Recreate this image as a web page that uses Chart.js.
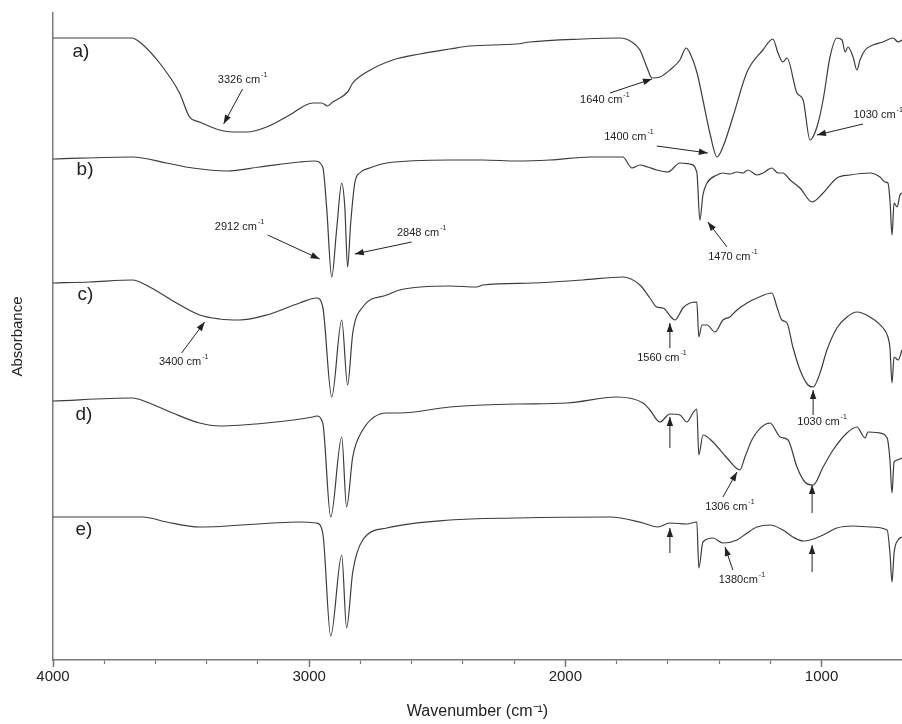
<!DOCTYPE html>
<html>
<head>
<meta charset="utf-8">
<script src="https://cdn.jsdelivr.net/npm/chart.js@4/dist/chart.umd.min.js"></script>
<style>
body{margin:0;background:#fff}
canvas{display:block}
</style>
</head>
<body>
<canvas id="ftir" width="902" height="724"></canvas>
<script>
// wavenumber (cm-1) and relative absorbance
const waveA=[4000,3693,3662,3584,3506,3467,3428,3350,3299,3244,3166,3076,2986,2951,2928,2908,2850,2830,2775,2674,2568,2451,2373,2190,2139,1932,1787,1740,1709,1682,1662,1631,1592,1553,1529,1514,1486,1463,1436,1408,1385,1346,1291,1229,1190,1170,1151,1135,1096,1072,1045,1018,994,967,940,920,908,897,877,862,850,830,799,760,721,701,686]
const absA=[622,622,618,597,567,543,538,530,528,528,533,545,557,557,554,558,568,577,588,600,606,611,614,616,618,621,622,618,610,593,582,583,590,600,612,607,587,560,527,503,513,543,588,610,621,607,598,602,567,560,520,533,560,603,622,620,608,613,603,590,600,610,615,618,622,618,620]

const waveB=[4000,3690,3557,3455,3322,3193,3037,2979,2947,2932,2912,2893,2873,2861,2850,2838,2822,2803,2764,2697,2451,2322,2190,2061,1904,1776,1740,1709,1678,1643,1600,1553,1514,1487,1475,1463,1447,1408,1385,1358,1330,1307,1287,1252,1229,1194,1170,1151,1123,1084,1037,994,940,889,811,772,752,741,733,725,717,705,694,686]
const absB=[501,503,497,492,489,493,498,499,493,453,383,430,477,453,393,437,477,487,492,497,500,500,499,500,503,503,492,495,493,490,488,497,496,488,440,465,477,485,487,486,488,487,490,485,487,492,487,487,480,472,458,467,482,485,487,483,478,477,460,425,457,453,465,467]

const waveC=[4000,3857,3690,3623,3518,3428,3350,3272,3166,3037,2971,2947,2912,2873,2850,2830,2791,2697,2647,2451,2346,2322,2127,1932,1776,1709,1670,1643,1619,1572,1541,1514,1487,1479,1467,1447,1416,1385,1358,1330,1291,1252,1194,1174,1155,1135,1112,1084,1053,1033,1006,979,940,901,862,811,760,741,733,725,717,701,686]
const absC=[377,378,380,373,357,345,341,340,345,357,362,353,263,340,275,327,353,365,370,374,373,375,377,380,383,375,362,353,352,340,352,357,358,323,335,335,328,340,343,350,357,362,367,353,340,337,313,290,275,273,287,310,332,343,348,343,332,323,312,277,303,300,310]

const waveD=[4000,3690,3635,3533,3428,3350,3166,2986,2971,2947,2916,2873,2854,2830,2791,2697,2647,2451,2322,2190,1994,1799,1697,1670,1631,1592,1553,1526,1502,1487,1479,1463,1424,1369,1319,1299,1268,1201,1162,1131,1096,1065,1033,994,955,901,862,830,819,772,744,733,725,717,705,686]
const absD=[259,262,258,247,237,234,237,243,244,237,143,223,153,203,230,247,247,253,255,256,257,263,257,250,238,246,245,238,247,251,205,225,218,202,190,203,222,237,223,220,193,178,175,193,210,227,233,222,228,227,222,200,167,198,200,202]

const waveE=[4000,3650,3557,3428,3037,2971,2947,2916,2873,2854,2830,2791,2697,2451,2190,1826,1697,1639,1592,1526,1487,1479,1463,1424,1385,1330,1291,1252,1201,1151,1112,1072,1045,994,940,877,811,744,733,725,717,701,686]
const absE=[143,143,138,133,138,137,127,24,105,32,88,120,132,140,142,143,137,133,137,136,138,92,118,122,117,120,127,133,135,130,123,119,120,125,132,134,133,130,107,78,107,120,123]

const traceNames=["a)","b)","c)","d)","e)"]
const xMin=686
const xMax=4000
const majorTicks=[1000,2000,3000,4000]

// trace letters: [wavenumber, absorbance]
const letterPos=[[3924,608],[3908,490],[3904,365],[3912,245],[3912,130]]

// peak notes, all in data units
const notes=[
{text:"3326 cm",at:[3260,580],from:[3260,571],to:[3334,536]},
{text:"1640 cm",at:[1846,560],from:[1826,567],to:[1662,581]},
{text:"1400 cm",at:[1752,523],from:[1643,514],to:[1444,507]},
{text:"1030 cm",at:[779,545],from:[838,536],to:[1018,525]},
{text:"2912 cm",at:[3272,433],from:[3162,425],to:[2959,401]},
{text:"2848 cm",at:[2561,427],from:[2600,418],to:[2822,406]},
{text:"1470 cm",at:[1346,403],from:[1369,413],to:[1444,438]},
{text:"3400 cm",at:[3490,298],from:[3498,307],to:[3408,338]},
{text:"1560 cm",at:[1623,302],from:[1592,312],to:[1592,337]},
{text:"1030 cm",at:[998,238],from:[1033,245],to:[1033,270]},
{text:null,from:[1592,212],to:[1592,243]},
{text:"1306 cm",at:[1358,153],from:[1385,163],to:[1330,188]},
{text:null,from:[1037,147],to:[1037,175]},
{text:null,from:[1592,107],to:[1592,132]},
{text:"1380cm",at:[1311,80],from:[1346,90],to:[1377,113]},
{text:null,from:[1037,88],to:[1037,115]}
]

const font="'Liberation Sans', Arial, sans-serif"
const ink="#222"
const axisGrey="#7a7a7a"

function pairs(w,a){
return w.map((v,i)=>({x:v,y:a[i]}))
}

const series=[[waveA,absA],[waveB,absB],[waveC,absC],[waveD,absD],[waveE,absE]]

const notesPlugin={
id:"notes",
afterDatasetsDraw(chart){
const ctx=chart.ctx
const sx=chart.scales.x
const sy=chart.scales.y
const px=p=>[sx.getPixelForValue(p[0]),sy.getPixelForValue(p[1])]
ctx.save()

// letters
ctx.fillStyle=ink
ctx.font="19px "+font
ctx.textBaseline="middle"
ctx.textAlign="left"
traceNames.forEach((t,i)=>{
const p=px(letterPos[i])
ctx.fillText(t,p[0],p[1])
})

notes.forEach(n=>{
const a=px(n.from)
const b=px(n.to)
ctx.strokeStyle=ink
ctx.lineWidth=1
ctx.beginPath()
ctx.moveTo(a[0],a[1])
ctx.lineTo(b[0],b[1])
ctx.stroke()
const ang=Math.atan2(b[1]-a[1],b[0]-a[0])
const L=9,W=3.2
ctx.beginPath()
ctx.moveTo(b[0],b[1])
ctx.lineTo(b[0]-L*Math.cos(ang)+W*Math.sin(ang),b[1]-L*Math.sin(ang)-W*Math.cos(ang))
ctx.lineTo(b[0]-L*Math.cos(ang)-W*Math.sin(ang),b[1]-L*Math.sin(ang)+W*Math.cos(ang))
ctx.closePath()
ctx.fillStyle=ink
ctx.fill()

if(n.text){
const c=px(n.at)
ctx.font="11px "+font
const w1=ctx.measureText(n.text).width
ctx.font="7px "+font
const w2=ctx.measureText("-1").width
let x0=c[0]-(w1+w2+1)/2
ctx.textAlign="left"
ctx.textBaseline="middle"
ctx.font="11px "+font
ctx.fillText(n.text,x0,c[1])
ctx.font="7px "+font
ctx.fillText("-1",x0+w1+1,c[1]-5)
}
})
ctx.restore()
}
}

new Chart(document.getElementById("ftir"),{
type:"line",
data:{
datasets:series.map((s,i)=>({
label:traceNames[i],
data:pairs(s[0],s[1]),
borderColor:"#3c3c3c",
borderWidth:1.2,
pointRadius:0,
fill:false,
cubicInterpolationMode:"monotone"
}))
},
options:{
responsive:false,
animation:false,
devicePixelRatio:1,
layout:{padding:{top:13,right:0,bottom:0,left:0}},
plugins:{legend:{display:false},tooltip:{enabled:false}},
scales:{
x:{
type:"linear",
reverse:true,
min:xMin,
max:xMax,
afterFit:s=>{s.height=64},
afterBuildTicks:s=>{s.ticks=s.ticks.filter(t=>t.value%200===0)},
ticks:{
stepSize:200,
autoSkip:false,
maxRotation:0,
padding:4,
color:ink,
font:{family:font,size:15},
callback:v=>majorTicks.includes(v)?String(v):""
},
grid:{drawOnChartArea:false,drawTicks:true,tickLength:4,tickColor:axisGrey,tickWidth:1.2},
border:{display:true,color:axisGrey,width:1.5},
title:{display:true,text:"Wavenumber (cm\u207B\u00B9)",color:ink,font:{family:font,size:16},padding:{top:0,bottom:3}}
},
xMajor:{
type:"linear",
reverse:true,
min:xMin,
max:xMax,
position:{y:0},
afterBuildTicks:s=>{s.ticks=majorTicks.map(v=>({value:v}))},
ticks:{display:false},
grid:{drawOnChartArea:false,drawTicks:true,tickLength:7,tickColor:axisGrey,tickWidth:1.5},
border:{display:false}
},
y:{
type:"linear",
min:0,
max:647,
afterFit:s=>{s.width=53},
ticks:{display:false},
grid:{drawOnChartArea:false,drawTicks:false},
border:{display:true,color:axisGrey,width:1.5},
title:{display:true,text:"Absorbance",color:ink,font:{family:font,size:15},padding:{top:9,bottom:0}}
}
}
},
plugins:[notesPlugin]
})
</script>
</body>
</html>
